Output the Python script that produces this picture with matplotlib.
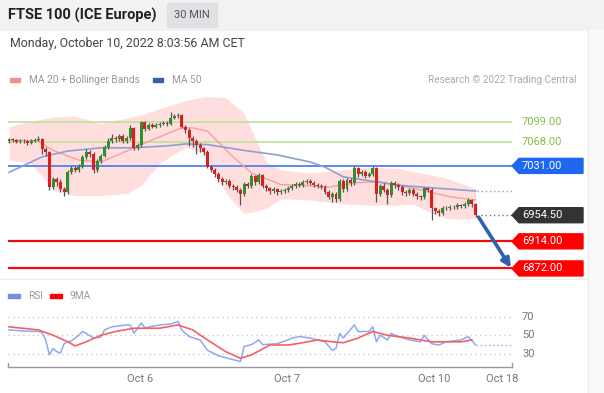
import numpy as np
import matplotlib
matplotlib.use("Agg")
import matplotlib.pyplot as plt
from matplotlib.patches import Rectangle, Polygon
from matplotlib.lines import Line2D

plt.rcParams["font.family"] = ["Roboto", "DejaVu Sans"]

# ---- data (30 min bars, Oct 5 -> Oct 10 08:00) ----
first_open = 7070
closes = [7072, 7071, 7068, 7070, 7069, 7067, 7069, 7071, 7072, 7057,
          7052, 6998, 7010, 7006, 6995, 6990, 7022, 7028, 7025, 7030,
          7045, 7053, 7050, 7024, 7038, 7047, 7060, 7070, 7075, 7072,
          7077, 7070, 7074, 7090, 7058, 7063, 7099, 7088, 7094, 7092,
          7095, 7096, 7098, 7096, 7106, 7108, 7110, 7092, 7087, 7075,
          7070, 7064, 7058, 7052, 7030, 7025, 7018, 7010, 7006, 7008,
          7000, 6998, 6994, 6988, 7003, 7000, 7015, 7006, 7017, 7000,
          6996, 6992, 6995, 6990, 6992, 6994, 6997, 7000, 7003, 7002,
          7006, 7008, 7004, 7001, 7000, 6999, 6991, 6983, 6987, 6980,
          7008, 6995, 7009, 7004, 7027, 7018, 7021, 7016, 7019, 7028,
          6988, 7000, 6994, 6986, 7005, 7001, 6998, 6990, 6989, 6993,
          6988, 6984, 6982, 6996, 6994, 6965, 6961, 6958, 6966, 6965,
          6968, 6967, 6970, 6969, 6972, 6978, 6972, 6954.5]
highs = [7075, 7074, 7073, 7072, 7072, 7071, 7072, 7074, 7078, 7075,
         7060, 7054, 7013, 7014, 7010, 6998, 7025, 7031, 7031, 7034,
         7048, 7057, 7056, 7052, 7041, 7050, 7063, 7074, 7080, 7078,
         7081, 7080, 7078, 7094, 7092, 7066, 7101, 7101, 7097, 7097,
         7098, 7099, 7101, 7101, 7115, 7112, 7113, 7112, 7095, 7089,
         7078, 7073, 7066, 7061, 7055, 7033, 7028, 7021, 7013, 7011,
         7011, 7003, 7001, 6996, 7006, 7006, 7018, 7017, 7020, 7019,
         7003, 6999, 6998, 6997, 6995, 6997, 7000, 7003, 7006, 7006,
         7009, 7011, 7010, 7007, 7004, 7003, 7002, 6994, 6990, 6990,
         7011, 7010, 7012, 7012, 7031, 7030, 7024, 7024, 7022, 7031,
         7030, 7003, 7004, 6997, 7008, 7008, 7004, 7001, 6993, 6996,
         6996, 6991, 6986, 6999, 6999, 6996, 6968, 6964, 6969, 6969,
         6971, 6970, 6973, 6972, 6975, 6981, 6980, 6974]
lows = [7067, 7068, 7066, 7066, 7067, 7064, 7065, 7068, 7069, 7050,
        7047, 6994, 6995, 7000, 6990, 6984, 6988, 7019, 7021, 7022,
        7027, 7042, 7045, 7020, 7021, 7035, 7044, 7057, 7067, 7068,
        7069, 7067, 7067, 7071, 7055, 7055, 7060, 7085, 7086, 7089,
        7090, 7092, 7094, 7093, 7094, 7103, 7105, 7089, 7082, 7062,
        7060, 7050, 7052, 7048, 7027, 7021, 7014, 7006, 7002, 7003,
        6996, 6994, 6990, 6970, 6984, 6996, 6997, 7002, 7003, 6996,
        6992, 6988, 6989, 6986, 6987, 6989, 6991, 6994, 6997, 6999,
        6999, 7003, 7001, 6998, 6996, 6995, 6988, 6979, 6975, 6975,
        6977, 6991, 6992, 7000, 7001, 7014, 7015, 7012, 7013, 7016,
        6975, 6984, 6990, 6972, 6983, 6997, 6994, 6986, 6985, 6986,
        6984, 6980, 6978, 6979, 6990, 6947, 6957, 6954, 6955, 6962,
        6962, 6964, 6964, 6966, 6966, 6969, 6968, 6952]

ma20_idx = [0, 8, 12, 19, 25, 30, 34, 41, 47, 50, 54, 61, 66, 74, 79, 87, 94, 101, 112, 120, 127]
ma20 = [7071, 7070, 7055, 7040, 7037, 7049, 7059, 7076, 7090, 7090, 7085, 7045, 7020,
        7002, 7001, 6998, 7005, 7006, 6994, 6983, 6978]
ma50_idx = [0, 9, 16, 25, 34, 43, 48, 54, 64, 73, 82, 86, 91, 98, 106, 115, 127]
ma50 = [7021, 7045, 7054, 7059, 7059, 7062, 7065, 7064, 7055, 7048, 7037, 7029,
        7014, 7008, 7001, 6997, 6992]
bb_idx = [0, 6, 12, 18, 25, 32, 36, 41, 48, 53, 56, 59, 61, 64, 67, 70, 74, 82,
          91, 98, 106, 110, 116, 119, 123, 127]
bb_upper = [7092, 7100, 7107, 7108, 7097, 7105, 7110, 7120, 7132, 7138, 7138, 7137,
            7128, 7112, 7074, 7037, 7025, 7020, 7025, 7029, 7027, 7022, 7016, 7012,
            7004, 6996]
bb_lower = [7040, 7035, 6994, 6985, 6985, 6988, 7000, 7035, 7060, 7050, 7020, 6990,
            6975, 6958, 6960, 6965, 6980, 6978, 6972, 6970, 6970, 6972, 6955, 6950,
            6948, 6950]

rsi_idx = [0, 4, 8, 9, 10, 11, 12, 13, 14, 15, 16, 17, 19, 20, 21, 23, 25, 26, 28,
           32, 33, 34, 36, 37, 41, 44, 46, 47, 49, 52, 54, 57, 60, 63, 64, 66, 68,
           69, 73, 76, 77, 79, 82, 84, 86, 88, 89, 90, 91, 94, 95, 98, 99, 100,
           101, 103, 104, 106, 109, 112, 113, 115, 117, 119, 123, 125, 127]
rsi = [55.7, 54.5, 54, 53, 45, 29, 36, 32.5, 31, 41, 43, 44, 50, 54, 52, 47, 48,
       55.7, 59, 61, 61, 52, 63, 58, 61, 62, 64.6, 55.7, 48.6, 45, 34, 28, 25, 22,
       38, 40, 45, 40, 41, 45, 47, 48.6, 47, 45, 43, 34, 36, 52, 47, 61, 54, 54,
       59, 43, 50, 45, 52, 48.6, 45, 43, 50, 41, 39.6, 43, 45, 48.6, 39.6]
rsi_ma_idx = [0, 8, 12, 16, 18, 21, 25, 29, 34, 41, 46, 50, 54, 59, 63, 66, 71, 76,
              79, 84, 88, 91, 95, 99, 103, 109, 115, 123, 126]
rsi_ma = [59, 55.7, 50, 43, 38.6, 43, 50, 54, 57.5, 57.5, 61, 55.7, 45, 32.5, 25.4,
          29, 39.6, 39.6, 41.4, 45, 43, 42, 47, 54, 50, 47, 43, 43, 45]

day_labels = ["Oct 6", "Oct 7", "Oct 10", "Oct 18"]
day_idx = [35.6, 75.6, 115.7, 134.3]

green_levels = [7099.0, 7068.0]
blue_levels = [7031.0]
red_levels = [6914.0, 6872.0]
last_price = 6954.5
rsi_levels = [70, 50, 30]

# ---- figure ----
W, H = 604, 393
fig = plt.figure(figsize=(W / 100, H / 100), dpi=100)
fig.patch.set_facecolor("white")


def fbox(x, y, w, h):
    return [x / W, 1 - (y + h) / H, w / W, h / H]


# header band
fig.add_artist(Rectangle((0, 1 - 30 / H), 1, 30 / H, transform=fig.transFigure,
                         color="#f2f2f2", zorder=0))
fig.add_artist(Rectangle((167 / W, 1 - 27 / H), 50 / W, 24 / H, transform=fig.transFigure,
                         color="#dfe1e5", zorder=1))
fig.text(8 / W, 1 - 15 / H, "FTSE 100 (ICE Europe)", fontsize=10.5, fontweight="bold",
         color="#222222", va="center")
fig.text(192 / W, 1 - 15 / H, "30 MIN", fontsize=8, color="#555555", va="center", ha="center")
fig.text(10 / W, 1 - 44 / H, "Monday, October 10, 2022 8:03:56 AM CET", fontsize=8.9,
         color="#444444", va="center")

# right border and panel separator
fig.add_artist(Line2D([588 / W, 588 / W], [0, 1 - 30 / H], transform=fig.transFigure,
                      color="#ececec", lw=1))
fig.add_artist(Rectangle((589 / W, 0), 15 / W, 1 - 30 / H, transform=fig.transFigure,
                         color="#f9f9f9", zorder=0))
fig.add_artist(Line2D([0, 588 / W], [1 - 279 / H, 1 - 279 / H], transform=fig.transFigure,
                      color="#ececec", lw=1))

# legend main
fig.add_artist(Rectangle((10 / W, 1 - 82 / H), 10 / W, 4 / H, transform=fig.transFigure,
                         color="#f58d8d"))
fig.text(29 / W, 1 - 80 / H, "MA 20 + Bollinger Bands", fontsize=7.3, color="#999999", va="center")
fig.add_artist(Rectangle((153 / W, 1 - 82 / H), 10 / W, 4 / H, transform=fig.transFigure,
                         color="#3a5fa8"))
fig.text(172 / W, 1 - 80 / H, "MA 50", fontsize=7.3, color="#999999", va="center")
fig.text(577 / W, 1 - 80 / H, "Research \u00a9 2022 Trading Central", fontsize=7.2,
         color="#aaaaaa", va="center", ha="right")

# ---- price panel ----
ax = fig.add_axes(fbox(8, 95, 504, 180))
ax.set_xlim(-0.27, 136.9)
ax.set_ylim(6861.8, 7140.9)
ax.axis("off")

ax.fill_between(bb_idx, bb_lower, bb_upper, color="#ffdede", lw=0, zorder=1)
for lv in green_levels:
    ax.axhline(lv, color="#bfe09b", lw=1.2, zorder=2)
for lv in blue_levels:
    ax.axhline(lv, color="#4f7ff2", lw=1.3, zorder=2)
for lv in red_levels:
    ax.axhline(lv, color="#f20d0d", lw=1.6, zorder=2)
ax.plot(ma20_idx, ma20, color="#f5a0a0", lw=1.0, zorder=3)
ax.plot(ma50_idx, ma50, color="#8c9fd3", lw=1.2, zorder=3)

n = len(closes)
idx = np.arange(n)
c = np.array(closes, dtype=float)
o = np.r_[first_open, c[:-1]]
up = c >= o
ax.vlines(idx, lows, highs, color="#555555", lw=0.9, zorder=4)
ax.bar(idx, np.where(np.abs(c - o) < 1, 1, c - o), bottom=o, width=0.8,
       color=np.where(up, "#2f8f2f", "#d9201f"), lw=0, zorder=5)

# dotted extensions
ax.plot([n - 0.5, 136.9], [ma50[-1], ma50[-1]], ls=(0, (1, 2)), color="#8c9fd3", lw=1, zorder=3)
ax.plot([n + 0.5, 136.9], [last_price, last_price], ls=(0, (1, 2)), color="#777777", lw=1, zorder=3)

# forecast arrow
ax.annotate("", xy=(136.6, red_levels[1] + 1), xytext=(n - 0.2, last_price - 3),
            arrowprops=dict(arrowstyle="-|>", color="#2d60ad", lw=2.6, mutation_scale=13,
                            shrinkA=0, shrinkB=0), annotation_clip=False, zorder=6)

# right side labels
fig.canvas.draw()


def tag(level, face):
    yd = ax.transData.transform((0, level))[1]
    pts = [(512, yd), (519, yd + 7.5), (583, yd + 7.5), (583, yd - 7.5), (519, yd - 7.5)]
    fig.add_artist(Polygon(pts, closed=True, transform=None, color=face, zorder=6))
    fig.text(522 / W, yd / H, f"{level:.2f}", fontsize=8, color="white", va="center", zorder=7)


for lv in green_levels:
    yd = ax.transData.transform((0, lv))[1]
    fig.text(522 / W, yd / H, f"{lv:.2f}", fontsize=8, color="#84c043", va="center")
for lv in blue_levels:
    tag(lv, "#1f66f0")
tag(last_price, "#333333")
for lv in red_levels:
    tag(lv, "#ff0000")

# ---- RSI panel ----
fig.add_artist(Rectangle((8 / W, 1 - 298 / H), 12 / W, 4 / H, transform=fig.transFigure,
                         color="#6f8fe6"))
fig.text(28 / W, 1 - 296 / H, "RSI", fontsize=7.3, color="#999999", va="center")
fig.add_artist(Rectangle((50 / W, 1 - 298 / H), 12 / W, 4 / H, transform=fig.transFigure,
                         color="#ff0000"))
fig.text(70 / W, 1 - 296 / H, "9MA", fontsize=7.3, color="#999999", va="center")

rax = fig.add_axes(fbox(8, 305, 504, 62))
rax.set_xlim(-0.27, 136.9)
rax.set_ylim(16.1, 82.3)
rax.axis("off")
rax.hlines(rsi_levels, -0.27, 136.9, colors="#cccccc", linestyles=(0, (1, 2.5)), lw=1)
rax.plot(rsi_idx, rsi, color="#8fa8f0", lw=1.1, zorder=3)
rax.plot(rsi_ma_idx, rsi_ma, color="#f26262", lw=1.2, zorder=4)
rax.plot([rsi_idx[-1], 136.9], [rsi[-1], rsi[-1]], ls=(0, (1, 2)), color="#8fa8f0", lw=1)
for lv in rsi_levels:
    rax.text(1.02, lv, str(lv), transform=rax.get_yaxis_transform(), fontsize=8,
             color="#777777", va="center")

# time axis
yb = 1 - 367 / H
fig.add_artist(Line2D([8 / W, 512 / W], [yb, yb], transform=fig.transFigure, color="#9a9a9a", lw=1))
for xp in (8, 512):
    fig.add_artist(Line2D([xp / W, xp / W], [yb, yb + 4 / H], transform=fig.transFigure,
                          color="#9a9a9a", lw=1))
for lab, xi in zip(day_labels, day_idx):
    rax.text(xi, -0.2, lab, transform=rax.get_xaxis_transform(), fontsize=8,
             color="#777777", ha="center", va="center")

fig.savefig("out.png", dpi=100)
